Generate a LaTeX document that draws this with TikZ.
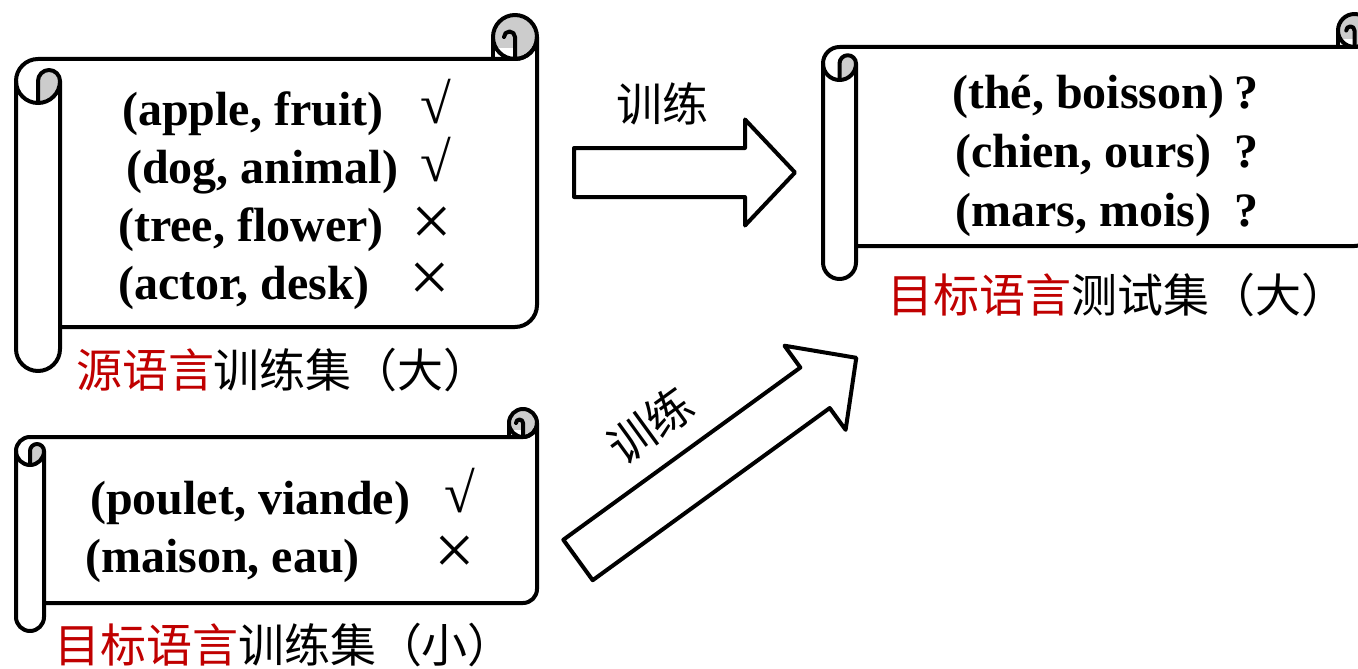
\documentclass[tikz,border=0pt]{standalone}
\usepackage{fontspec}
\setmainfont{Liberation Serif}
\newfontfamily\cjk{Noto Sans CJK SC}
\usetikzlibrary{calc}
\definecolor{rollgray}{HTML}{CCCCCC}
\definecolor{cnred}{HTML}{C00000}
\tikzset{
  outline/.style={line width=4pt, line join=round, line cap=round},
  pairtext/.style={font=\fontsize{48}{48}\selectfont\bfseries, anchor=base west, inner sep=0pt},
  checktext/.style={font=\fontsize{56}{56}\selectfont, anchor=center, inner sep=0pt},
  crosstext/.style={font=\fontsize{72}{72}\selectfont, anchor=center, inner sep=0pt},
  qtext/.style={font=\fontsize{48}{48}\selectfont\bfseries, anchor=base, inner sep=0pt},
  cnlabel/.style={font=\cjk\fontsize{46}{46}\selectfont, inner sep=0pt},
  blockarrow/.style={outline, fill=white},
}
\newcommand\scrollshape[5]{%
  \pgfmathsetmacro\sL{#1}\pgfmathsetmacro\sT{#2}\pgfmathsetmacro\sR{#3}\pgfmathsetmacro\sB{#4}%
  \pgfmathsetmacro\sc{#5}\pgfmathsetmacro\sh{#5/2}\pgfmathsetmacro\sq{#5/4}\pgfmathsetmacro\sqq{#5/8}%
  % white body and roll
  \fill[white] (\sL+\sh,\sT+\sc) -- (\sR-\sh,\sT+\sc) arc[start angle=90,end angle=0,radius=\sh]
    -- (\sR,\sB-\sc-\sh) arc[start angle=0,end angle=90,radius=\sh] -- (\sL+\sc,\sB-\sc)
    -- (\sL+\sc,\sB-\sh) arc[start angle=0,end angle=180,radius=\sh]
    -- (\sL,\sT+\sc+\sh) arc[start angle=180,end angle=270,radius=\sh] -- cycle;
  % gray parts
  \fill[rollgray] (\sR-\sh,\sT+\sh) circle[radius=\sh];
  \fill[white] (\sR-\sc,\sT+\sh+\sq) rectangle (\sR-\sh,\sT+\sc);
  \fill[rollgray] (\sL+\sh,\sT+\sc+\sh) arc[start angle=180,end angle=360,radius=\sq]
    arc[start angle=0,end angle=90,radius=\sh] -- cycle;
  % strokes
  \draw[outline] (\sL+\sh,\sT+\sc) -- (\sR-\sh,\sT+\sc) arc[start angle=90,end angle=0,radius=\sh]
    -- (\sR,\sB-\sc-\sh) arc[start angle=0,end angle=90,radius=\sh] -- (\sL+\sc,\sB-\sc);
  \draw[outline] (\sR-\sh,\sT+\sh) circle[radius=\sh];
  \draw[outline] (\sR-\sc,\sT+\sh) -- (\sR-\sc,\sT+\sc);
  \draw[outline] (\sR-\sh,\sT+\sc) -- (\sR-\sh,\sT+\sh) arc[start angle=0,end angle=-180,radius=\sqq];
  \draw[outline] (\sL+\sh,\sT+\sc) arc[start angle=270,end angle=180,radius=\sh]
    -- (\sL,\sB-\sh) arc[start angle=180,end angle=0,radius=\sh]
    -- (\sL+\sc,\sT+\sc+\sh) arc[start angle=360,end angle=180,radius=\sq] -- (\sL+\sh,\sT+\sc+\sc);
  \draw[outline] (\sL,\sT+\sc+\sh) arc[start angle=180,end angle=0,radius=\sh];
}
\begin{document}
\begin{tikzpicture}[x=1pt,y=-1pt]
\useasboundingbox (0,0) rectangle (1358,669);
\clip (0,0) rectangle (1358,669);
\fill[white] (0,0) rectangle (1358,669);

% scrolls
\scrollshape{16}{15}{537}{371}{44}
\scrollshape{823}{14}{1371}{279}{33}
\scrollshape{16}{409}{537}{631}{28}

% source training set
\node[pairtext] (s1) at (122,125) {(apple, fruit)};
\node[pairtext] (s2) at (126,183) {(dog, animal)};
\node[pairtext] (s3) at (118,241) {(tree, flower)};
\node[pairtext] (s4) at (118,299) {(actor, desk)};
\node[checktext] (m1) at (436,102) {√};
\node[checktext] (m2) at (436,160) {√};
\node[crosstext] (m3) at (432,226.5) {×};
\node[crosstext] (m4) at (430,282.5) {×};
\node[cnlabel] (lab1) at (283,370) {{\color{cnred}源语言}训练集（大）};

% target test set
\node[pairtext] (t1) at (952,109) {(thé, boisson)};
\node[pairtext] (t2) at (955,167) {(chien, ours)};
\node[pairtext] (t3) at (955,226) {(mars, mois)};
\node[qtext] (q1) at (1246,109) {?};
\node[qtext] (q2) at (1246,167) {?};
\node[qtext] (q3) at (1246,226) {?};
\node[cnlabel] (lab2) at (1117,295) {{\color{cnred}目标语言}测试集（大）};

% target training set
\node[pairtext] (u1) at (90,514) {(poulet, viande)};
\node[pairtext] (u2) at (85,572) {(maison, eau)};
\node[checktext] (n1) at (460,491) {√};
\node[crosstext] (n2) at (455,555.5) {×};
\node[cnlabel] (lab3) at (284,645) {{\color{cnred}目标语言}训练集（小）};

% arrows
\begin{scope}[shift={(574,172.5)}]
  \draw[blockarrow] (0,-24.5) -- (171,-24.5) -- (171,-53) -- (221,0) -- (171,53) -- (171,24.5) -- (0,24.5) -- cycle;
\end{scope}
\node[cnlabel] (a1) at (662,104) {训练};
\begin{scope}[shift={(578,560)}, rotate=36]
  \draw[blockarrow] (0,-25) -- (293,-25) -- (293,-52) -- (344,0) -- (293,52) -- (293,25) -- (0,25) -- cycle;
\end{scope}
\node[cnlabel, rotate=36] (a2) at (650,425) {训练};
\end{tikzpicture}
\end{document}
